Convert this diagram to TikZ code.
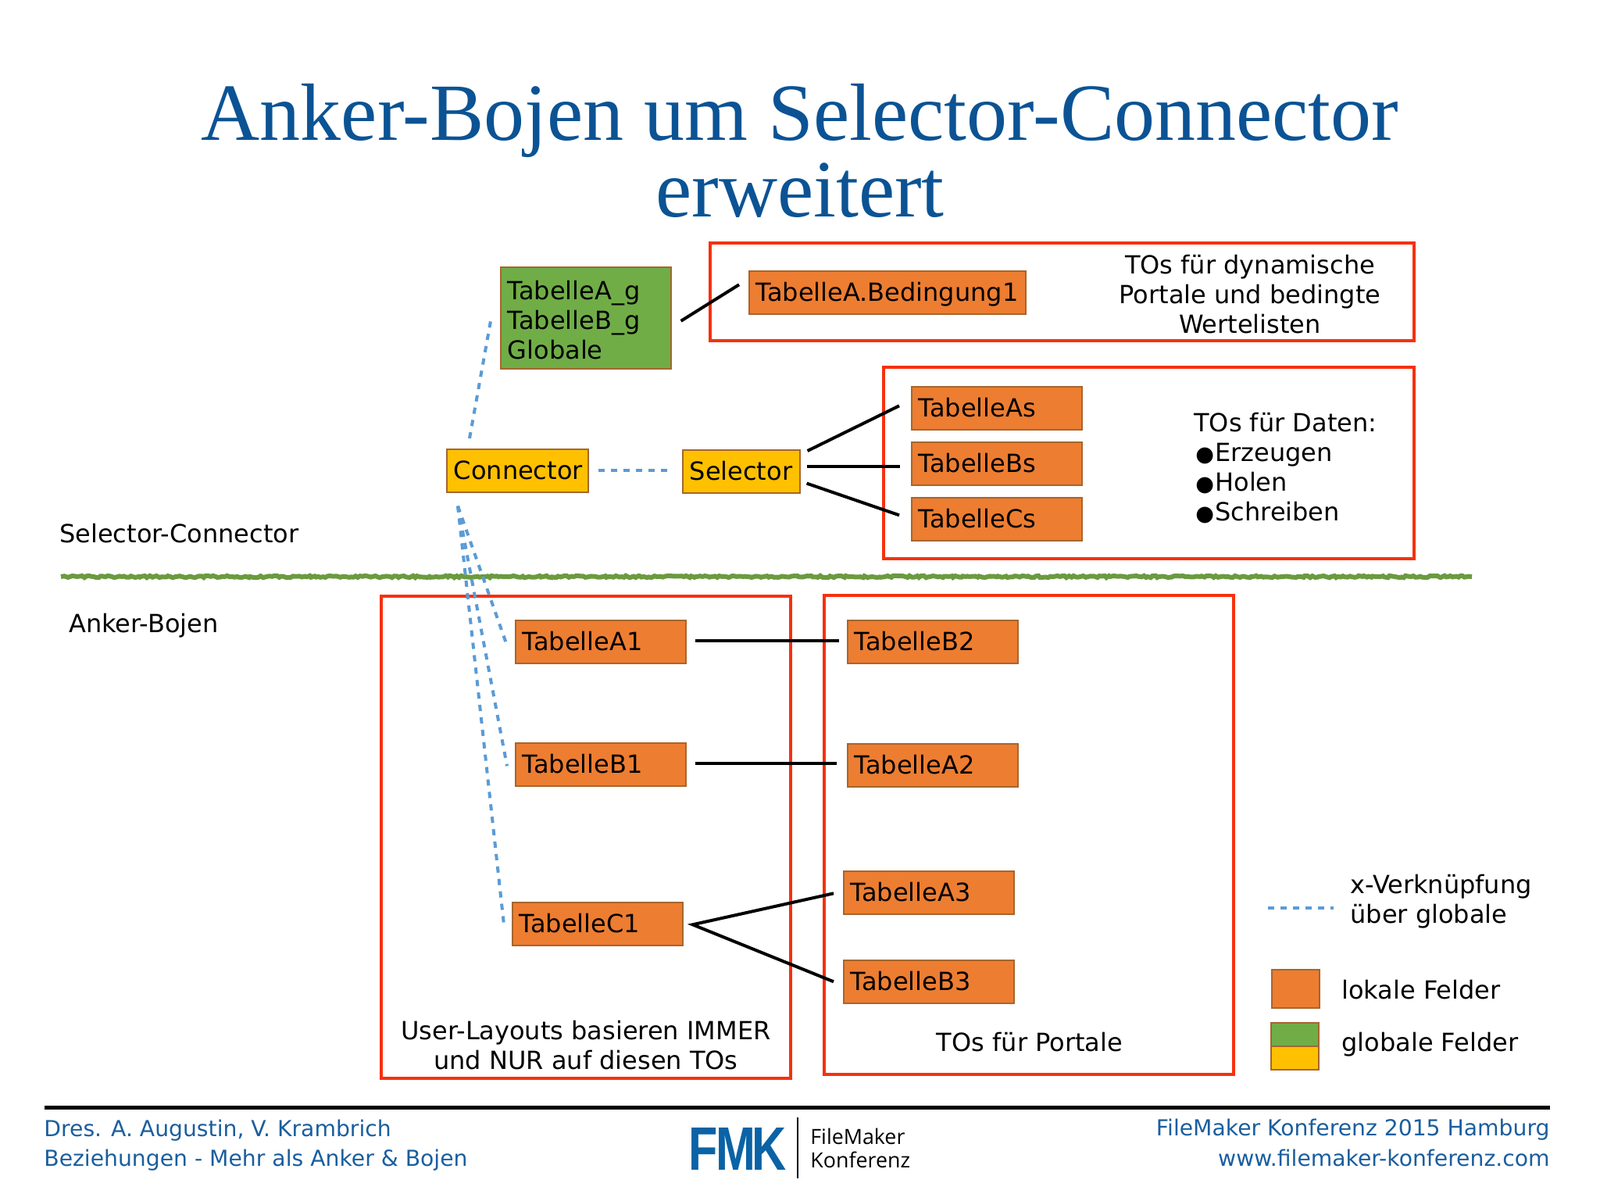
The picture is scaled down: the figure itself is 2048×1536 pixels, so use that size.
\documentclass[tikz,border=0pt]{standalone}
\usepackage{fontspec}
\usepackage{graphicx}
\setmainfont{DejaVu Sans}
\newfontfamily\titlefont{Liberation Serif}
\newfontfamily\footfont{DejaVu Sans}
\newfontfamily\logofont{Liberation Sans}
\newfontfamily\logotext{Open Sans}
\usetikzlibrary{calc,decorations.pathmorphing}
\definecolor{boxorange}{HTML}{ED7D31}
\definecolor{boxgreen}{HTML}{70AD47}
\definecolor{boxyellow}{HTML}{FFC000}
\definecolor{boxedge}{HTML}{A5662E}
\definecolor{dashblue}{HTML}{5B9BD5}
\definecolor{framered}{HTML}{F5310F}
\definecolor{titleblue}{HTML}{0B5394}
\definecolor{footblue}{HTML}{1A5E9E}
\definecolor{logoblue}{HTML}{0A63A5}
\definecolor{grassgreen}{HTML}{6B9A3F}
\newcommand{\blt}{\kern1pt\scalebox{.85}{●}\kern.6pt}
\tikzset{
  body/.style={font=\fontsize{16}{19}\selectfont,inner sep=0pt,text=black},
  lefttext/.style={body,anchor=west,align=left,text height=12.5pt,text depth=1.5pt},
  midtext/.style={body,align=center},
  fieldbox/.style={body,draw=boxedge,line width=.8pt,anchor=north west,align=left,inner xsep=4.5pt,inner ysep=0pt,text height=12.5pt,text depth=1.5pt},
  tbl/.style={fieldbox,fill=boxorange,minimum width=109pt,minimum height=27.5pt,text width=100pt},
  frame/.style={draw=framered,line width=2pt},
  rel/.style={draw=black,line width=2pt},
  xlink/.style={draw=dashblue,line width=2pt,dash pattern=on 4pt off 4pt},
  foot/.style={font=\fontsize{14.12}{14.12}\selectfont\footfont,text=footblue,inner sep=0pt,text height=10.5pt,text depth=3pt},
  swatch/.style={draw=boxedge,line width=.8pt},
}
\begin{document}
\begin{tikzpicture}[x=.5pt,y=-.5pt]
\useasboundingbox (0,0) rectangle (2048,1536);
% title
\node[font=\fontsize{52}{52}\selectfont\titlefont,text=titleblue,inner sep=0pt,anchor=base] (t1) at (1024,179) {Anker-Bojen um Selector-Connector};
\node[font=\fontsize{52}{52}\selectfont\titlefont,text=titleblue,inner sep=0pt,anchor=base] (t2) at (1024,277) {erweitert};
% red frames
\draw[frame] (909,311) rectangle (1810,436);
\draw[frame] (1131,470) rectangle (1810,715);
\draw[frame] (488,763) rectangle (1012,1380);
\draw[frame] (1055,762) rectangle (1579,1375);
% grass
\draw[grassgreen,line width=3pt,decorate,decoration={random steps,segment length=1.5pt,amplitude=.6pt}] (78,738) -- (1884,738);
% boxes
\node[fieldbox,fill=boxgreen,minimum width=109pt,minimum height=65pt,text width=100pt,text height=,text depth=] (glob) at (640,341) {\rule{0pt}{14.5pt}TabelleA\_g\\TabelleB\_g\\Globale};
\node[tbl,minimum width=177pt,text width=168pt] (bed) at (958,346) {TabelleA.Bedingung1};
\node[fieldbox,fill=boxyellow,minimum width=90.5pt,minimum height=27.5pt,text width=81.5pt] (conn) at (571,574) {Connector};
\node[fieldbox,fill=boxyellow,minimum width=75pt,minimum height=27.5pt,text width=66pt] (sel) at (873,575) {Selector};
\node[tbl] (as) at (1166,494) {TabelleAs};
\node[tbl] (bs) at (1166,565) {TabelleBs};
\node[tbl] (cs) at (1166,636) {TabelleCs};
\node[tbl] (a1) at (659,793) {TabelleA1};
\node[tbl] (b1) at (659,950) {TabelleB1};
\node[tbl] (c1) at (655,1154) {TabelleC1};
\node[tbl] (b2) at (1084,793) {TabelleB2};
\node[tbl] (a2) at (1084,951) {TabelleA2};
\node[tbl] (a3) at (1079,1114) {TabelleA3};
\node[tbl] (b3) at (1079,1228) {TabelleB3};
% solid relations
\draw[rel] ($(glob.east)+(12,4)$) -- ($(bed.west)+(-12,-10)$);
\draw[rel] ($(sel.north east)+(9,2)$) -- ($(as.west)+(-15,-3)$);
\coordinate (bsend) at ($(bs.west)+(-14,4)$);
\coordinate (selmid) at (sel.east |- bsend);
\draw[rel] ($(selmid)+(8,0)$) -- (bsend);
\draw[rel] ($(sel.south east)+(8,-13)$) -- ($(cs.west)+(-15,-5)$);
\draw[rel] ($(a1.east)+(11,-1)$) -- ($(b2.west)+(-10,-1)$);
\draw[rel] ($(b1.east)+(11,-1)$) -- ($(a2.west)+(-13,-2)$);
\draw[rel] ($(a3.west)+(-12,1)$) -- ($(c1.east)+(12,1)$) -- ($(b3.west)+(-12,0)$);
% dotted cross links
\draw[xlink] ($(conn.north west)+(30,-13)$) -- ($(glob.west)+(-12,4)$);
\draw[xlink] ($(conn.east)+(12,0)$) -- ($(sel.west)+(-18,-1)$);
\coordinate (hub) at ($(conn.south west)+(15,17)$);
\draw[xlink] (hub) -- ($(a1.west)+(-11,2)$);
\draw[xlink] (hub) -- ($(b1.west)+(-10,2)$);
\draw[xlink] (hub) -- ($(c1.west)+(-10,1)$);
% free text
\node[midtext] (txd) at (1600,377) {TOs für dynamische\\Portale und bedingte\\Wertelisten};
\node[lefttext,anchor=north west,text height=,text depth=] (txs) at (1528,528) {TOs für Daten:\\\blt Erzeugen\\\blt Holen\\\blt Schreiben};
\node[lefttext] (lsc) at (76,683) {Selector-Connector};
\node[lefttext] (lab) at (88,798) {Anker-Bojen};
\node[midtext] (lul) at (750,1338) {User-Layouts basieren IMMER\\und NUR auf diesen TOs};
\node[midtext] (ltp) at (1318,1334) {TOs für Portale};
% legend
\coordinate (ls) at (1623,1162);
\coordinate (le) at (1707,1162);
\draw[xlink] (ls) -- (le);
\node[lefttext,anchor=north west,text height=,text depth=] (lx) at (1728,1119) {x-Verknüpfung\\über globale};
\node[swatch,fill=boxorange,minimum width=30.5pt,minimum height=24.5pt,inner sep=0pt,anchor=north west] (so) at (1627,1240) {};
\node[swatch,fill=boxgreen,minimum width=30.5pt,minimum height=15pt,inner sep=0pt,anchor=north west] (sg) at (1626,1308) {};
\node[swatch,fill=boxyellow,minimum width=30.5pt,minimum height=15pt,inner sep=0pt,anchor=north west] (sy) at (1626,1338) {};
\node[lefttext] (llf) at (1717,1267) {lokale Felder};
\node[lefttext] (lgf) at (1717,1334) {globale Felder};
% footer
\coordinate (fl) at (57,1417);
\coordinate (fr) at (1984,1417);
\draw[black,line width=2.5pt] (fl) -- (fr);
\node[foot,anchor=west] (f1) at (56,1447) {Dres. A. Augustin, V. Krambrich};
\node[foot,anchor=west] (f2) at (56,1485) {Beziehungen - Mehr als Anker \& Bojen};
\node[foot,anchor=east] (f3) at (1984,1446) {FileMaker Konferenz 2015 Hamburg};
\node[foot,anchor=east] (f4) at (1984,1485) {www.filemaker-konferenz.com};
\node[inner sep=0pt,anchor=north west,text=logoblue] (logo) at (881,1443) {\resizebox{62.5pt}{27pt}{\logofont\bfseries F\kern-.04em M\kern-.08em K}};
\coordinate (lt) at (1021,1430);
\coordinate (lb) at (1021,1508);
\draw[black,line width=.7pt] (lt) -- (lb);
\node[font=\fontsize{13.4}{13.4}\selectfont\logotext,inner sep=0pt,anchor=west,text=black,text height=10pt,text depth=2pt] (lg1) at (1037,1456) {FileMaker};
\node[font=\fontsize{13.4}{13.4}\selectfont\logotext,inner sep=0pt,anchor=west,text=black,text height=10pt,text depth=2pt] (lg2) at (1037,1486) {Konferenz};
\end{tikzpicture}
\end{document}
